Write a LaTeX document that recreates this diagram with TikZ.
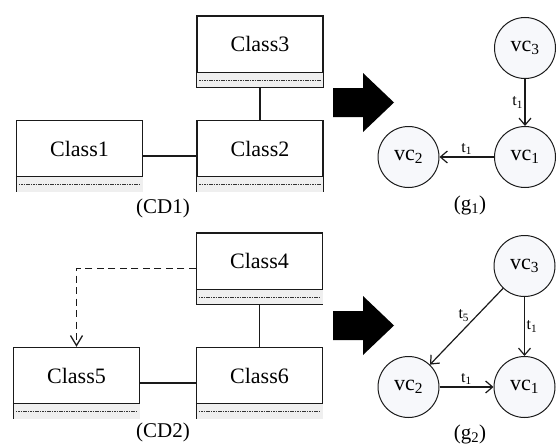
\documentclass[tikz,border=0pt]{standalone}
\usepackage{fontspec}
\setmainfont{Liberation Serif}
\usetikzlibrary{arrows.meta,calc}
\definecolor{linec}{HTML}{1A1A1A}
\definecolor{compc}{HTML}{EFEFEF}
\definecolor{vcfill}{HTML}{F7F8FB}
\tikzset{
  classbox/.style={draw=linec,line width=1.4pt,minimum width=126pt,minimum height=71pt,inner sep=0pt},
  classtext/.style={font=\fontsize{22}{26}\selectfont,inner sep=0pt},
  assoc/.style={draw=linec,line width=1.3pt},
  depend/.style={draw=linec,line width=1.4pt,dash pattern=on 7pt off 4.5pt,-{Straight Barb[length=10pt,width=12pt,line width=1.3pt]}},
  vcnode/.style={circle,draw=linec,line width=1pt,fill=vcfill,minimum size=61pt,inner sep=0pt,font=\fontsize{22}{26}\selectfont},
  vedge/.style={draw=linec,line width=1.2pt,-{Straight Barb[length=7pt,width=12pt,line width=1.2pt]}},
  elabel/.style={font=\fontsize{16}{18}\selectfont,inner sep=1.5pt},
  caption/.style={font=\fontsize{21}{24}\selectfont,inner sep=0pt},
  fatarrow/.style={fill=black,draw=none}
}
\newcommand\umlclass[4]{%
  \node[classbox] (#1) at (#2,#3) {};
  \fill[compc] ([shift={(0.7pt,0.7pt)}]#1.south west) rectangle ([shift={(-0.7pt,15.5pt)}]#1.south east);
  \draw[linec,line width=1.2pt] ([yshift=15.5pt]#1.south west) -- ([yshift=15.5pt]#1.south east);
  \draw[black!80,line width=0.8pt,dash pattern=on 1.6pt off 0.8pt] ([shift={(3pt,7.5pt)}]#1.south west) -- ([shift={(-3pt,7.5pt)}]#1.south east);
  \node[classtext] (#1t) at ([yshift=7.5pt]#1.center) {#4};
}
\begin{document}
\begin{tikzpicture}[x=1pt,y=-1pt]
\useasboundingbox (0,0) rectangle (557,447);
% ---- CD1
\umlclass{c3}{260}{51.5}{Class3}
\umlclass{c2}{260}{156}{Class2}
\umlclass{c1}{79.5}{156}{Class1}
\draw[assoc] (c3.south) -- (c2.north);
\draw[assoc] (c1.east) -- (c2.west);
\node[caption] (cd1) at (163,208) {(CD1)};
% ---- CD2
\umlclass{c4}{259.5}{268.5}{Class4}
\umlclass{c5}{76.5}{383}{Class5}
\umlclass{c6}{259.5}{383}{Class6}
\draw[assoc] (c4.south) -- (c6.north);
\draw[assoc] (c5.east) -- (c6.west);
\draw[depend] (c4.west) -| (c5.north);
\node[caption] (cd2) at (163,432) {(CD2)};
% ---- fat arrows
\fill[fatarrow] (333,88) -- (363,88) -- (363,73) -- (394,102.5) -- (363,132) -- (363,117) -- (333,117) -- cycle;
\fill[fatarrow] (333,311) -- (363,311) -- (363,296) -- (394,325.5) -- (363,355) -- (363,340) -- (333,340) -- cycle;
% ---- g1
\node[vcnode] (a3) at (525,48) {vc\textsubscript{3}};
\node[vcnode] (a1) at (525,157) {vc\textsubscript{1}};
\node[vcnode] (a2) at (408.5,157) {vc\textsubscript{2}};
\draw[vedge] (a3) -- node[elabel,left,pos=0.5] {t\textsubscript{1}} (a1);
\draw[vedge] (a1) -- node[elabel,above,pos=0.5] {t\textsubscript{1}} (a2);
\node[caption] (g1) at (470,205) {(g\textsubscript{1})};
% ---- g2
\node[vcnode] (b3) at (524.5,266) {vc\textsubscript{3}};
\node[vcnode] (b1) at (524.5,387) {vc\textsubscript{1}};
\node[vcnode] (b2) at (408.5,387) {vc\textsubscript{2}};
\draw[vedge] (b3) -- node[elabel,right,pos=0.5] {t\textsubscript{1}} (b1);
\draw[vedge] (b2) -- node[elabel,above,pos=0.5] {t\textsubscript{1}} (b1);
\draw[vedge] (b3) -- node[elabel,above left,pos=0.45,inner sep=0.5pt] {t\textsubscript{5}} (b2);
\node[caption] (g2) at (470,434) {(g\textsubscript{2})};
\end{tikzpicture}
\end{document}
